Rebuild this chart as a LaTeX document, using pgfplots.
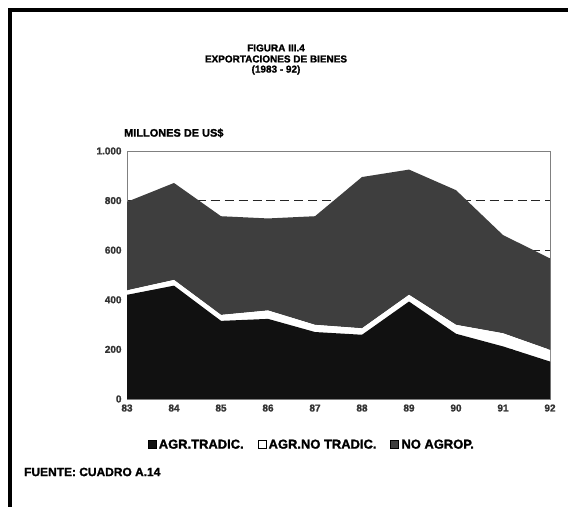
\documentclass[border=0pt]{standalone}
\usepackage{pgfplots}
\pgfplotsset{compat=1.18}
\usepackage{fontspec}
\setmainfont{Liberation Sans}[BoldFeatures={FakeBold=1.5}]
\definecolor{agrtrad}{HTML}{111111}
\definecolor{noagrop}{HTML}{3E3E3E}
\begin{document}
\begin{tikzpicture}[x=1bp,y=1bp]
\useasboundingbox (0,0) rectangle (568,507);
\fill[white] (0,0) rectangle (568,507);
\draw[line width=3.5bp] (10,0) -- (10,497) -- (568,497);
\node[font=\bfseries\fontsize{10}{11}\selectfont] at (276,459) {FIGURA III.4};
\node[font=\bfseries\fontsize{10}{11}\selectfont] at (276,448) {EXPORTACIONES DE BIENES};
\node[font=\bfseries\fontsize{10}{11}\selectfont] at (276,437) {(1983 - 92)};
\node[font=\bfseries\fontsize{11}{12}\selectfont, anchor=west, inner sep=0pt] at (124,374) {MILLONES DE US\$};
\node[font=\bfseries\fontsize{12}{13}\selectfont, anchor=west, inner sep=0pt] at (24,35) {FUENTE: CUADRO A.14};
\begin{axis}[
  at={(127bp,108bp)}, anchor=south west,
  scale only axis, width=423bp, height=248bp,
  xmin=83, xmax=92, ymin=0, ymax=1000,
  stack plots=y,
  xtick={83,...,92},
  ytick={0,200,400,600,800,1000},
  yticklabels={0,200,400,600,800,1.000},
  major tick length=0pt,
  /pgf/number format/assume math mode=true,
  tick label style={font=\bfseries\fontsize{10}{11}\selectfont, text=black!80},
  xticklabel style={yshift=-2pt},
  yticklabel style={xshift=-2pt},
  ymajorgrids,
  grid style={black!85, line width=0.8pt, dash pattern=on 9pt off 5pt},
  axis line style={black!50, line width=0.8pt},
  legend style={at={(0.437,-0.185)}, anchor=center, draw=none, fill=none,
    legend columns=3, font=\bfseries\fontsize{13}{14}\selectfont,
    /tikz/every even column/.append style={column sep=12pt}},
  legend image code/.code={\draw[#1, draw=black, line width=1pt] (0pt,-4pt) rectangle (8pt,4.5pt);},
]
\addplot[fill=agrtrad, draw=none] coordinates {
(83,420) (84,457) (85,315) (86,323) (87,270) (88,259) (89,393) (90,263) (91,212) (92,151)} \closedcycle;
\addlegendentry{AGR.TRADIC.}
\addplot[fill=white, draw=none] coordinates {
(83,18) (84,23) (85,24) (86,34) (87,29) (88,26) (89,27) (90,36) (91,53) (92,47)} \closedcycle;
\addlegendentry{AGR.NO TRADIC.}
\addplot[fill=noagrop, draw=none] coordinates {
(83,357) (84,391) (85,398) (86,371) (87,438) (88,610) (89,505) (90,543) (91,396) (92,369)} \closedcycle;
\addlegendentry{NO AGROP.}
\end{axis}
\end{tikzpicture}
\end{document}
